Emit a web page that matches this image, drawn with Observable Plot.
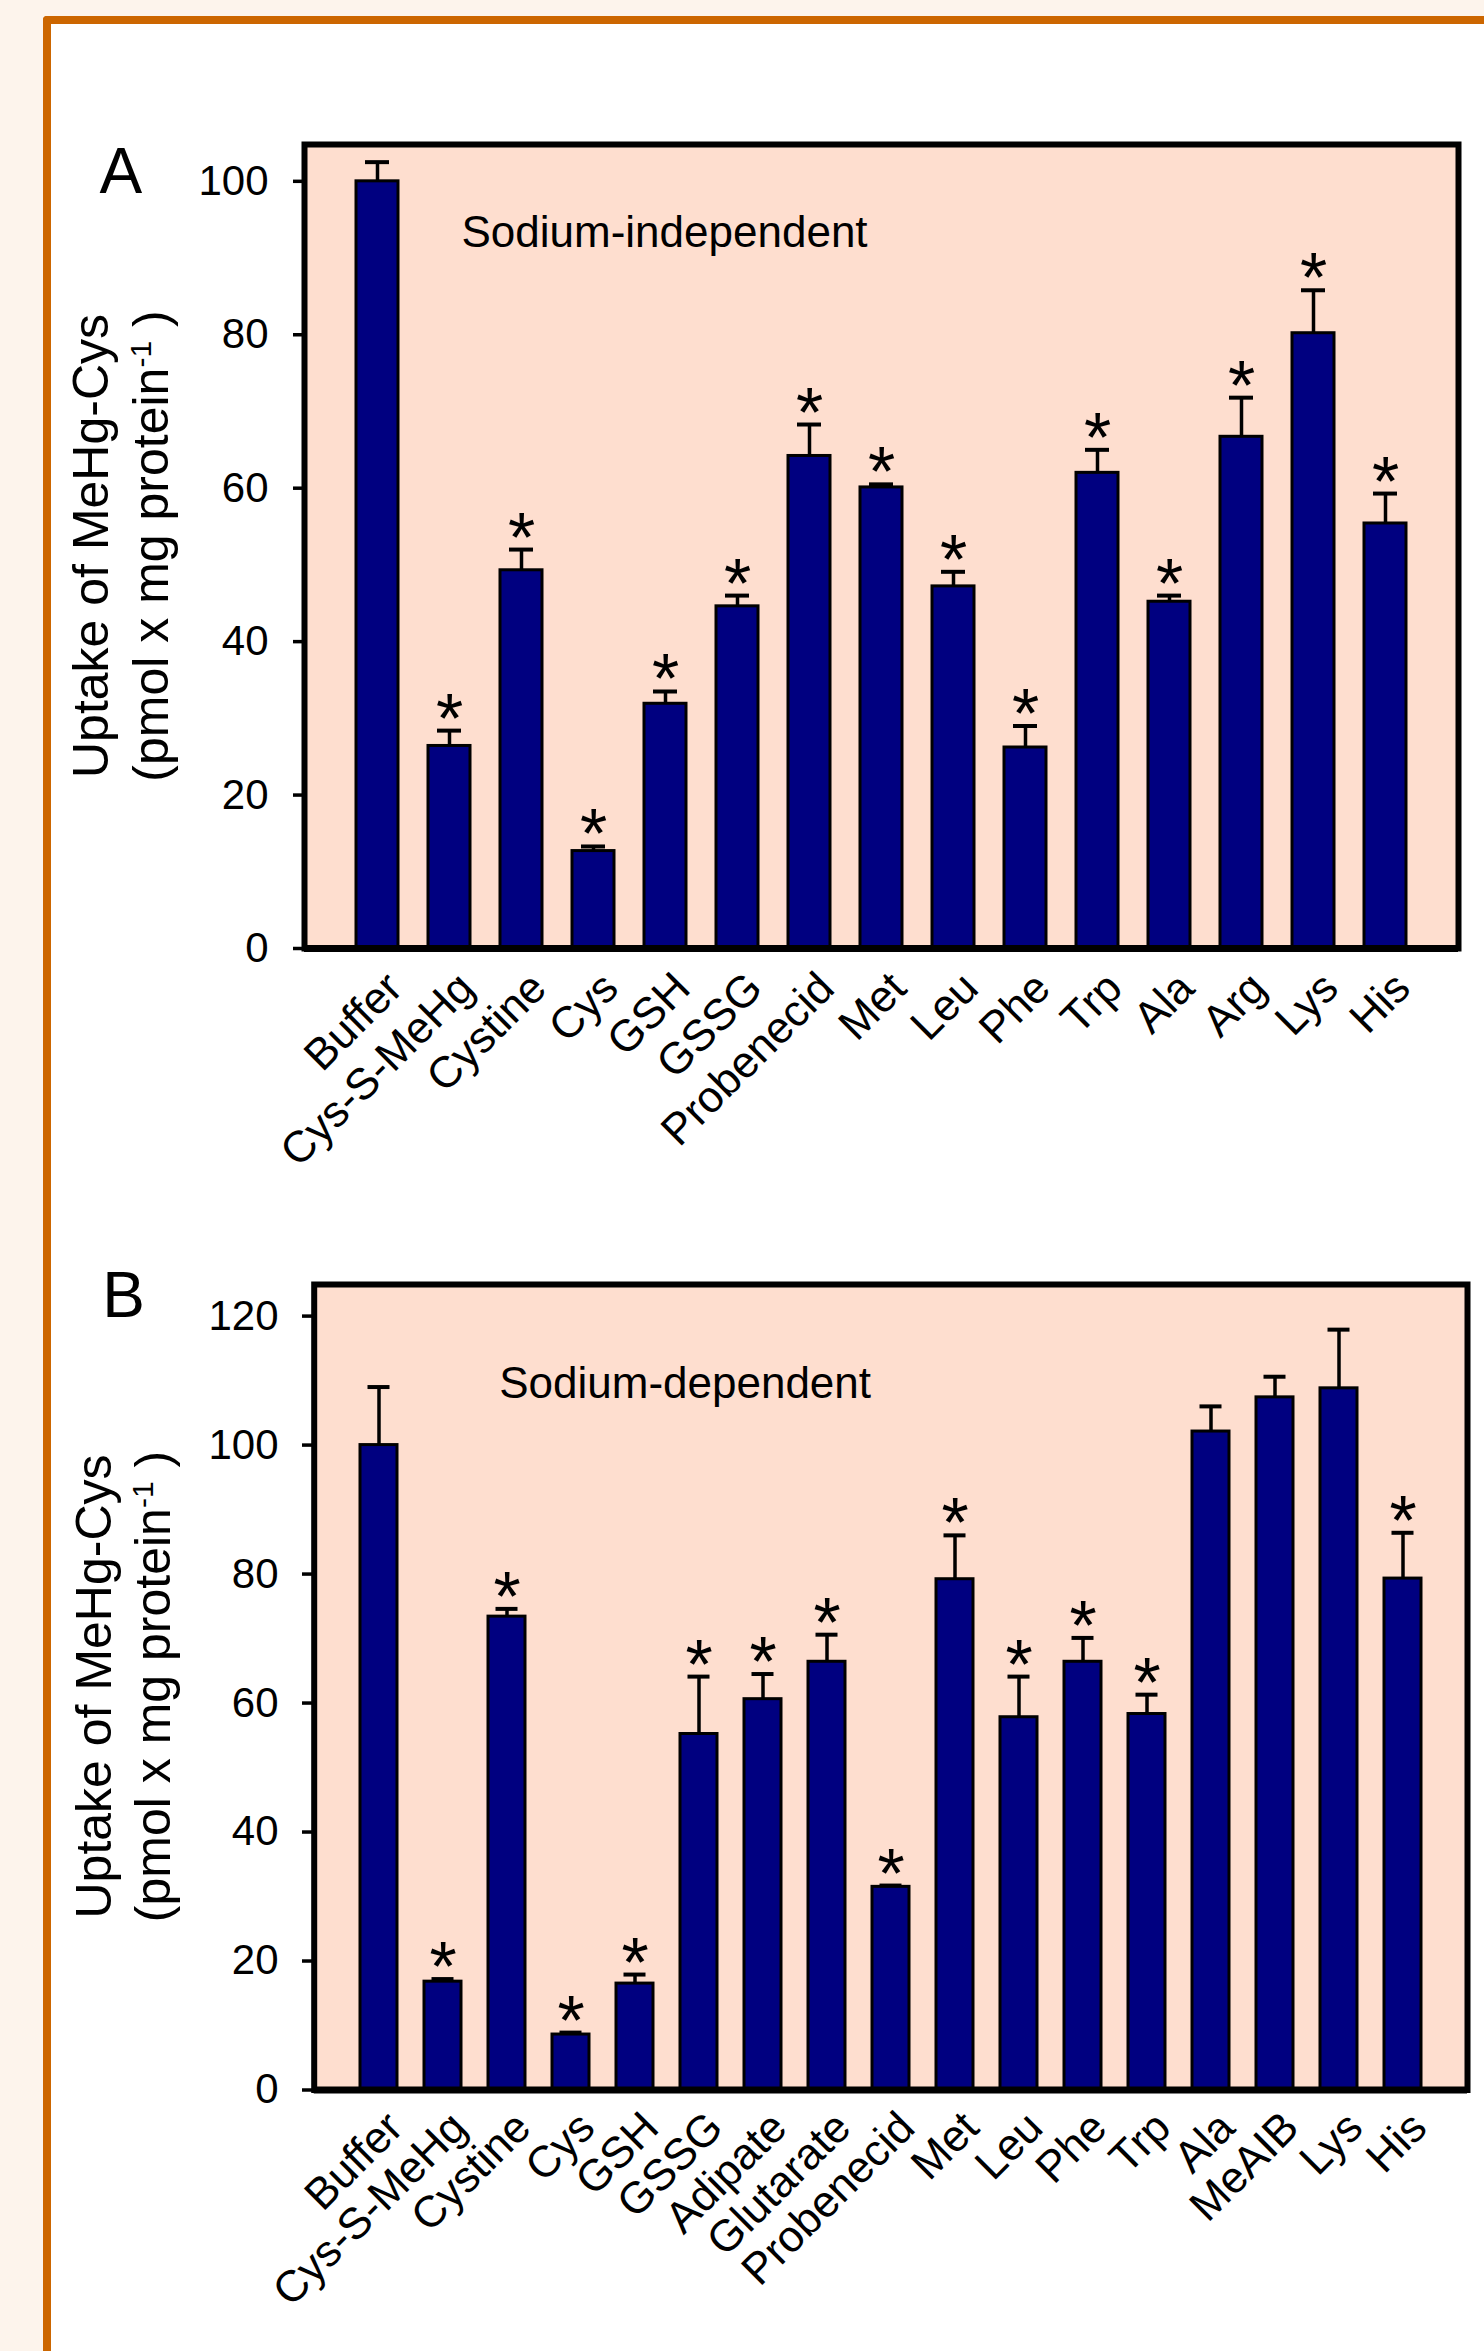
<!DOCTYPE html>
<html>
<head>
<meta charset="utf-8">
<script src="https://cdn.jsdelivr.net/npm/d3@7"></script>
<script src="https://cdn.jsdelivr.net/npm/@observablehq/plot@0.6"></script>
<style>
  html, body { margin: 0; padding: 0; width: 1484px; height: 2351px; overflow: hidden; background: #fdf4ec; }
  #frame { position: absolute; left: 43px; top: 16px; width: 1500px; height: 2400px;
           border-left: 8px solid #cc6600; border-top: 8px solid #cc6600; border-top-left-radius: 4px; background: #ffffff; }
  #panelA { position: absolute; left: 0; top: 0; }
  #panelB { position: absolute; left: 0; top: 1180px; }
  svg { overflow: visible; }
</style>
</head>
<body>
<div id="frame"></div>
<div id="panelA"></div>
<div id="panelB"></div>
<script>
// ---------- Data ----------
const namesA = ["Buffer","Cys-S-MeHg","Cystine","Cys","GSH","GSSG","Probenecid","Met","Leu","Phe","Trp","Ala","Arg","Lys","His"];
const meanA  = [100, 26.4, 49.3, 12.7, 31.9, 44.6, 64.2, 60.1, 47.2, 26.2, 62.0, 45.2, 66.7, 80.2, 55.4];
const semA   = [2.5, 2.0, 2.7, 0.6, 1.6, 1.4, 4.1, 0.4, 1.9, 2.8, 3.0, 0.8, 5.1, 5.6, 3.9];
const sigA   = [false, true, true, true, true, true, true, true, true, true, true, true, true, true, true];
const ticksA = [0, 20, 40, 60, 80, 100];

const namesB = ["Buffer","Cys-S-MeHg","Cystine","Cys","GSH","GSSG","Adipate","Glutarate","Probenecid","Met","Leu","Phe","Trp","Ala","MeAIB","Lys","His"];
const meanB  = [100, 16.8, 73.4, 8.6, 16.5, 55.2, 60.6, 66.4, 31.5, 79.2, 57.8, 66.4, 58.3, 102.1, 107.4, 108.8, 79.3];
const semB   = [9.0, 0.4, 1.2, 0.3, 1.4, 8.9, 3.9, 4.2, 0.2, 6.8, 6.3, 3.7, 3.0, 3.9, 3.2, 9.1, 7.1];
const sigB   = [false, true, true, true, true, true, true, true, true, true, true, true, true, false, false, false, true];
const ticksB = [0, 20, 40, 60, 80, 100, 120];

const FONT = "'Liberation Sans', Arial, Helvetica, sans-serif";
const NAVY = "#000080";
const PINK = "#fedecf";

function makePanel(o) {
  const data = o.names.map((n, i) => ({name: n, value: o.mean[i], hi: o.mean[i] + o.sem[i], sig: o.sig[i]}));
  const svg = Plot.plot({
    width: 1484,
    height: o.height,
    marginTop: o.mt, marginBottom: o.mb, marginLeft: o.ml, marginRight: o.mr,
    style: {background: "transparent", fontFamily: FONT, fontSize: "42px", color: "black", overflow: "visible"},
    x: {domain: o.names, paddingInner: 0.42, paddingOuter: 0.71, axis: null},
    y: {domain: [0, o.ymax], axis: null},
    marks: [
      Plot.frame({fill: PINK}),
      Plot.ruleX(data, {x: "name", y1: "value", y2: "hi", stroke: "black", strokeWidth: 3.5}),
      Plot.tickY(data, {x: "name", y: "hi", stroke: "black", strokeWidth: 4, insetLeft: o.capInset, insetRight: o.capInset}),
      Plot.barY(data, {x: "name", y: "value", fill: NAVY, stroke: "black", strokeWidth: 3}),
      Plot.text(data.filter(d => d.sig), {x: "name", y: "hi", text: () => "*", fontSize: 70, lineAnchor: "bottom", dy: 12, fill: "black"}),
      Plot.frame({stroke: "black", strokeWidth: 6}),
      Plot.ruleY([0], {stroke: "black", strokeWidth: 7}),
      Plot.axisY({ticks: o.ticks, tickSize: o.tickSize, tickPadding: o.tickPadding, fontSize: 42, label: null, strokeWidth: 3.5}),
      Plot.text(data, {x: "name", text: "name", frameAnchor: "bottom", rotate: -45, textAnchor: "end", lineAnchor: "top", dx: o.lx, dy: o.ly, fontSize: 44, fill: "black"}),
      Plot.text([o.note], {frameAnchor: "top-left", textAnchor: "start", lineAnchor: "bottom", dx: o.noteDx, dy: o.noteDy, fontSize: 44, fill: "black"}),
      Plot.text([o.letter], {frameAnchor: "top-left", textAnchor: "start", lineAnchor: "bottom", dx: o.letterDx, dy: o.letterDy, fontSize: 64, fill: "black"})
    ]
  });
  // two-line y axis title with superscript
  const g = d3.select(svg).append("g").attr("font-family", FONT).attr("font-size", 50).attr("fill", "black");
  g.append("text").attr("text-anchor", "middle")
    .attr("transform", `translate(${o.l1x},${o.labCy}) rotate(-90)`)
    .text("Uptake of MeHg-Cys");
  const t2 = g.append("text").attr("text-anchor", "middle")
    .attr("transform", `translate(${o.l2x},${o.labCy}) rotate(-90)`);
  t2.append("tspan").text("(pmol x mg protein");
  t2.append("tspan").attr("font-size", 30).attr("dy", -17).text("-1");
  t2.append("tspan").attr("dy", 17).text(" )");
  return svg;
}

document.getElementById("panelA").appendChild(makePanel({
  names: namesA, mean: meanA, sem: semA, sig: sigA, ticks: ticksA,
  height: 1180, mt: 144, mb: 232, ml: 304, mr: 26, ymax: 104.8,
  capInset: 9, tickSize: 11, tickPadding: 25, lx: 5, ly: 20,
  note: "Sodium-independent", noteDx: 157, noteDy: 102,
  letter: "A", letterDx: -205, letterDy: 48,
  l1x: 108, l2x: 168, labCy: 546
}));

document.getElementById("panelB").appendChild(makePanel({
  names: namesB, mean: meanB, sem: semB, sig: sigB, ticks: ticksB,
  height: 1171, mt: 104, mb: 261.5, ml: 313.7, mr: 17, ymax: 124.9,
  capInset: 7.5, tickSize: 11.7, tickPadding: 24, lx: 4, ly: 18,
  note: "Sodium-dependent", noteDx: 185, noteDy: 113,
  letter: "B", letterDx: -212, letterDy: 32,
  l1x: 111, l2x: 170, labCy: 506.5
}));
</script>
</body>
</html>
